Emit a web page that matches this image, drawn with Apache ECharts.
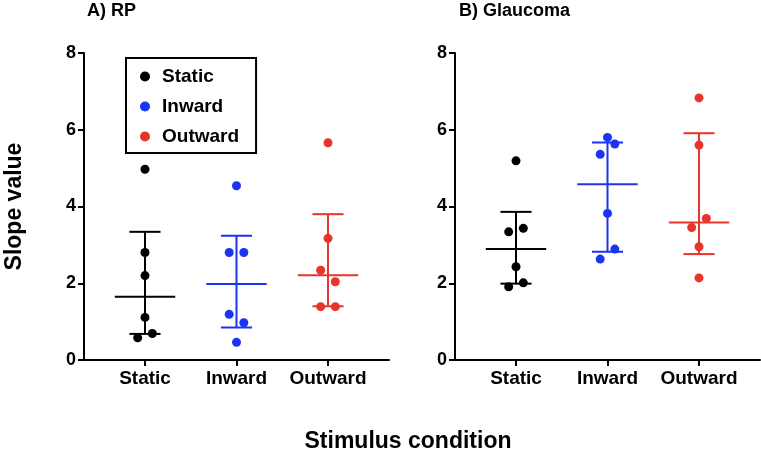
<!DOCTYPE html>
<html>
<head>
<meta charset="utf-8">
<script src="https://cdn.jsdelivr.net/npm/echarts@6/dist/echarts.min.js"></script>
<style>
  html, body { margin: 0; padding: 0; background: #fff; }
  #main { width: 761px; height: 452px; }
</style>
</head>
<body>
<div id="main"></div>
<script>
const conditions = ['Static', 'Inward', 'Outward'];
const colors = ['#000000', '#1b33f2', '#e8352c'];
const yTicks = [0, 2, 4, 6, 8];

// A) RP - slope value of each subject
const rpStatic = [4.97, 2.80, 2.20, 1.11, 0.58, 0.69];
const rpInward = [4.54, 2.80, 2.80, 1.19, 0.97, 0.46];
const rpOutward = [5.66, 3.17, 2.34, 2.04, 1.39, 1.39];
// centre line, lower and upper whisker per condition
const rpSummary = [[1.65, 0.68, 3.34], [1.98, 0.85, 3.24], [2.21, 1.40, 3.80]];

// B) Glaucoma
const glStatic = [5.19, 3.34, 3.43, 2.43, 1.91, 2.01];
const glInward = [5.80, 5.63, 5.36, 3.82, 2.89, 2.63];
const glOutward = [6.83, 5.60, 3.69, 3.45, 2.95, 2.14];
const glSummary = [[2.89, 1.99, 3.86], [4.58, 2.82, 5.67], [3.58, 2.76, 5.91]];

// side shift of overlapping dots (-1 left, 1 right)
const rpJitter = [[0, 0, 0, 0, -1, 1], [0, -1, 1, -1, 1, 0], [0, 0, -1, 1, -1, 1]];
const glJitter = [[0, -1, 1, 0, -1, 1], [0, 1, -1, 0, 1, -1], [0, 0, 1, -1, 0, 0]];

const JIT = 0.08;
const MEAN_HALF = 0.33;
const CAP_HALF = 0.17;
const FONT = 'Liberation Sans, Arial, Helvetica, sans-serif';

const chart = echarts.init(document.getElementById('main'));

function dotSeries(values, jitter, cat, panel) {
  return {
    name: conditions[cat],
    type: 'scatter',
    xAxisIndex: panel,
    yAxisIndex: panel,
    symbol: 'circle',
    symbolSize: 9,
    itemStyle: { color: colors[cat], opacity: 1 },
    data: values.map((v, i) => [cat + 1 + jitter[i] * JIT, v]),
    z: 3,
  };
}

function renderSummary(params, api) {
  const x = api.value(0);
  const c = api.coord([x, api.value(1)]);
  const lo = api.coord([x, api.value(2)]);
  const hi = api.coord([x, api.value(3)]);
  const hm = api.size([MEAN_HALF, 0])[0];
  const hc = api.size([CAP_HALF, 0])[0];
  const style = { stroke: colors[params.dataIndex], lineWidth: 2 };
  const seg = (x1, y1, x2, y2) => ({ type: 'line', shape: { x1, y1, x2, y2 }, style });
  return {
    type: 'group',
    children: [
      seg(c[0] - hm, c[1], c[0] + hm, c[1]),
      seg(lo[0], lo[1], hi[0], hi[1]),
      seg(hi[0] - hc, hi[1], hi[0] + hc, hi[1]),
      seg(lo[0] - hc, lo[1], lo[0] + hc, lo[1]),
    ],
  };
}

function summarySeries(summary, panel) {
  return {
    type: 'custom',
    xAxisIndex: panel,
    yAxisIndex: panel,
    renderItem: renderSummary,
    encode: { x: 0, y: [1, 2, 3] },
    data: summary.map((s, i) => [i + 1, s[0], s[1], s[2]]),
    z: 4,
  };
}

function xAxis(panel) {
  return {
    type: 'value',
    gridIndex: panel,
    min: 1 / 3,
    max: 11 / 3,
    axisLine: { lineStyle: { color: '#000', width: 2 } },
    axisTick: { customValues: [1, 2, 3], length: 6, lineStyle: { color: '#000', width: 2 } },
    axisLabel: {
      customValues: [1, 2, 3],
      formatter: (v) => conditions[Math.round(v) - 1],
      color: '#000', fontSize: 19, fontWeight: 'bold', fontFamily: FONT, margin: 9,
    },
    splitLine: { show: false },
  };
}

function yAxis(panel) {
  return {
    type: 'value',
    gridIndex: panel,
    min: yTicks[0],
    max: yTicks[yTicks.length - 1],
    interval: 2,
    axisLine: { show: true, lineStyle: { color: '#000', width: 2 } },
    axisTick: { show: true, length: 6, lineStyle: { color: '#000', width: 2 } },
    axisLabel: { color: '#000', fontSize: 18, fontWeight: 'bold', fontFamily: FONT, margin: 8 },
    splitLine: { show: false },
  };
}

const rpY = yAxis(0);
rpY.name = 'Slope value';
rpY.nameLocation = 'middle';
rpY.nameRotate = 90;
rpY.nameGap = 58;
rpY.nameTextStyle = { color: '#000', fontSize: 23, fontWeight: 'bold', fontFamily: FONT };

const titleStyle = { color: '#000', fontSize: 18, fontWeight: 'bold', fontFamily: FONT };

const option = {
  animation: false,
  backgroundColor: '#fff',
  title: [
    { text: 'A) RP', left: 87, top: 2, padding: 0, textStyle: titleStyle },
    { text: 'B) Glaucoma', left: 459, top: 2, padding: 0, textStyle: titleStyle },
  ],
  legend: {
    orient: 'vertical',
    left: 126,
    top: 58,
    padding: [9, 17, 7, 14],
    itemWidth: 24,
    itemHeight: 10,
    itemGap: 11,
    icon: 'circle',
    borderColor: '#000',
    borderWidth: 2,
    data: conditions,
    textStyle: { color: '#000', fontSize: 19, fontWeight: 'bold', fontFamily: FONT },
  },
  grid: [
    { left: 84, top: 53, width: 305, height: 307 },
    { left: 455, top: 53, width: 305, height: 307 },
  ],
  xAxis: [xAxis(0), xAxis(1)],
  yAxis: [rpY, yAxis(1)],
  graphic: [
    {
      type: 'text',
      x: 408,
      y: 430,
      style: { text: 'Stimulus condition', fill: '#000', font: 'bold 23px ' + FONT, textAlign: 'center' },
    },
  ],
  series: [
    dotSeries(rpStatic, rpJitter[0], 0, 0),
    dotSeries(rpInward, rpJitter[1], 1, 0),
    dotSeries(rpOutward, rpJitter[2], 2, 0),
    summarySeries(rpSummary, 0),
    dotSeries(glStatic, glJitter[0], 0, 1),
    dotSeries(glInward, glJitter[1], 1, 1),
    dotSeries(glOutward, glJitter[2], 2, 1),
    summarySeries(glSummary, 1),
  ],
};

chart.setOption(option);
window.addEventListener('resize', () => chart.resize());
</script>
</body>
</html>
